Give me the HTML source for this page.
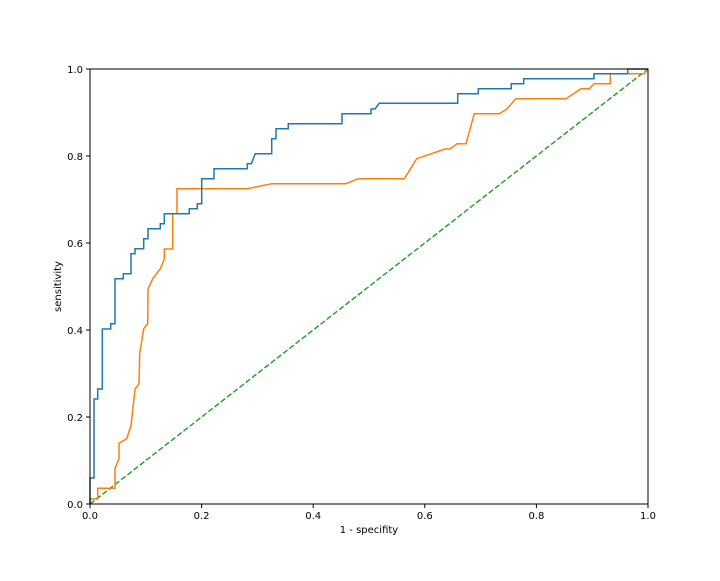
<!DOCTYPE html>
<html><head><style>html,body{margin:0;padding:0;background:#fff}</style></head><body>
<svg width="720" height="576" xmlns="http://www.w3.org/2000/svg" font-family="DejaVu Sans, Liberation Sans, sans-serif" font-size="10">
<rect width="720" height="576" fill="#fff"/>
<line x1="90" y1="504" x2="648" y2="69" stroke="#2ca02c" stroke-width="1.5" stroke-dasharray="5.5,2.4"/>
<polyline fill="none" stroke="#ff7f0e" stroke-width="1.5" points="90,504 90,499 97.7,499 97.7,488.3 115,488.3 115,468.3 119,459 119,443.3 126.7,438.7 131,425.7 135,389 139,384 139.7,353.3 143.7,328.7 147.7,323.7 148,289 152.7,278.7 160.3,268.7 164.3,259 164.3,249 172.7,249 172.7,213.7 177,213.7 177,188.7 247.3,188.7 271.7,183.7 346,183.7 358.3,178.7 404.3,178.7 416.7,158.7 445,149 450,149 457.3,143.7 466,143.7 474.3,113.7 499.3,113.7 507.3,108.7 515.7,98.7 566,98.7 581,88.7 589.3,88.7 594.3,83.7 610.3,83.7 610.3,73.7 644.3,73.7 648,69"/>
<polyline fill="none" stroke="#1f77b4" stroke-width="1.5" points="90,504 90,478 94,478 94,399 97.7,399 97.7,389 102.3,389 102.3,329 110.7,329 110.7,323.7 115,323.7 115,278.7 123.3,278.7 123.3,273.7 131,273.7 131,253.7 135,253.7 135,248.7 143.7,248.7 143.7,238.7 148,238.7 148,228.7 160.3,228.7 160.3,223.7 164.3,223.7 164.3,213.7 189.3,213.7 189.3,208.7 197.3,208.7 197.3,203.7 201.7,203.7 201.7,178.7 214,178.7 214,168.7 247.3,168.7 247.3,163.7 251.3,163.7 255.3,153.7 271.7,153.7 271.7,138.7 276,138.7 276,128.7 288.3,128.7 288.3,123.7 342,123.7 342,113.7 371,113.7 371,109 375,109 379.3,103.3 457.7,103.3 457.7,93.7 478.3,93.7 478.3,88.7 511.3,88.7 511.3,83.7 523.7,83.7 523.7,78.7 594,78.7 594,73.7 627.7,73.7 627.7,69 648,69"/>
<rect x="90" y="69" width="558" height="435" fill="none" stroke="#000" stroke-width="1"/>
<g stroke="#000" stroke-width="1">
<line x1="90" y1="504" x2="90" y2="508"/><line x1="201.6" y1="504" x2="201.6" y2="508"/><line x1="313.2" y1="504" x2="313.2" y2="508"/><line x1="424.8" y1="504" x2="424.8" y2="508"/><line x1="536.4" y1="504" x2="536.4" y2="508"/><line x1="648" y1="504" x2="648" y2="508"/>
<line x1="86" y1="504" x2="90" y2="504"/><line x1="86" y1="417" x2="90" y2="417"/><line x1="86" y1="330" x2="90" y2="330"/><line x1="86" y1="243" x2="90" y2="243"/><line x1="86" y1="156" x2="90" y2="156"/><line x1="86" y1="69" x2="90" y2="69"/>
</g>
<g text-anchor="middle" fill="#000">
<text x="90" y="519">0.0</text><text x="201.6" y="519">0.2</text><text x="313.2" y="519">0.4</text><text x="424.8" y="519">0.6</text><text x="536.4" y="519">0.8</text><text x="648" y="519">1.0</text>
<text x="369" y="533">1 - specifity</text>
</g>
<g text-anchor="end" fill="#000">
<text x="83" y="508">0.0</text><text x="83" y="421">0.2</text><text x="83" y="334">0.4</text><text x="83" y="247">0.6</text><text x="83" y="160">0.8</text><text x="83" y="73">1.0</text>
</g>
<text x="61" y="286.5" text-anchor="middle" transform="rotate(-90 61 286.5)">sensitivity</text>
</svg>
</body></html>
